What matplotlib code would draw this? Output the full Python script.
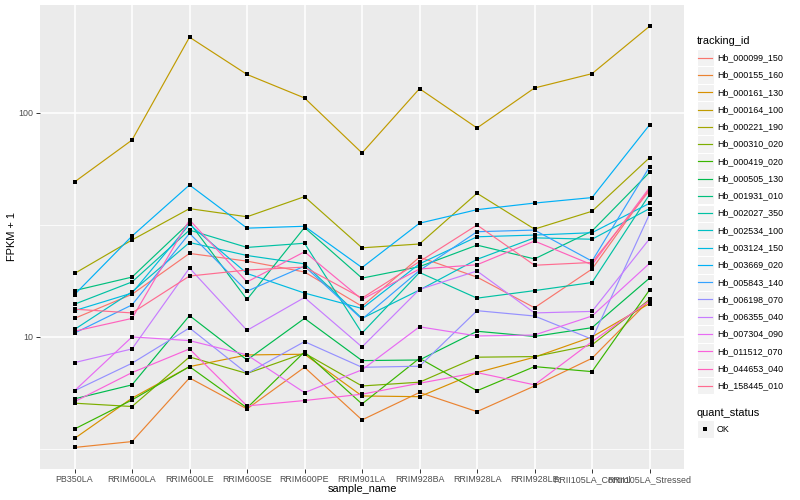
import matplotlib
matplotlib.use('Agg')
import matplotlib.pyplot as plt
import numpy as np
from matplotlib.patches import Rectangle
from matplotlib.lines import Line2D
from matplotlib.ticker import FixedLocator, NullFormatter

plt.rcParams['font.family'] = ['Liberation Sans', 'DejaVu Sans']

samples = ['PB350LA', 'RRIM600LA', 'RRIM600LE', 'RRIM600SE', 'RRIM600PE', 'RRIM901LA',
           'RRIM928BA', 'RRIM928LA', 'RRIM928LE', 'RRII105LA_Control', 'RRII105LA_Stressed']

tracking_ids = ['Hb_000099_150', 'Hb_000155_160', 'Hb_000161_130', 'Hb_000164_100',
                'Hb_000221_190', 'Hb_000310_020', 'Hb_000419_020', 'Hb_000505_130',
                'Hb_001931_010', 'Hb_002027_350', 'Hb_002534_100', 'Hb_003124_150',
                'Hb_003669_020', 'Hb_005843_140', 'Hb_006198_070', 'Hb_006355_040',
                'Hb_007304_090', 'Hb_011512_070', 'Hb_044653_040', 'Hb_158445_010']

colors = ['#F8766D', '#EA8331', '#D89000', '#C09B00', '#A3A500', '#7CAE00', '#39B600',
          '#00BB4E', '#00BF7D', '#00C1A3', '#00BFC4', '#00BAE0', '#00B0F6', '#35A2FF',
          '#9590FF', '#C77CFF', '#E76BF3', '#FA62DB', '#FF62BC', '#FF6C90']

# FPKM + 1 per gene, in sample order
hb_000099_150 = [12.1, 15.5, 23.6, 21.8, 19.5, 13.7, 22.7, 18.5, 13.5, 20.1, 45.8]
hb_000155_160 = [3.21, 3.41, 6.56, 4.77, 7.32, 4.26, 5.65, 4.64, 6.04, 8.03, 14.6]
hb_000161_130 = [3.52, 5.33, 7.37, 8.31, 8.37, 5.45, 5.41, 6.93, 8.12, 10.0, 14.1]
hb_000164_100 = [49.2, 75.7, 218, 148.6, 116.7, 66.3, 128.4, 85.7, 129.3, 149.8, 243.8]
hb_000221_190 = [19.2, 27.1, 37.4, 34.4, 42.3, 25.0, 26.0, 43.8, 30.3, 36.4, 63.1]
hb_000310_020 = [5.06, 4.89, 8.14, 6.87, 8.46, 6.04, 6.28, 8.12, 8.17, 9.21, 14.7]
hb_000419_020 = [3.88, 5.23, 7.37, 4.82, 8.57, 5.02, 8.03, 5.75, 7.37, 7.00, 16.2]
hb_000505_130 = [5.29, 6.11, 12.45, 7.89, 12.1, 7.84, 7.89, 10.6, 10.05, 11.0, 18.3]
hb_001931_010 = [16.1, 18.5, 32.4, 14.7, 30.8, 18.3, 20.6, 25.7, 22.3, 29.7, 54.3]
hb_002027_350 = [14.0, 17.6, 30.0, 25.1, 26.2, 10.4, 19.4, 14.9, 16.1, 17.5, 43.2]
hb_002534_100 = [10.8, 15.9, 26.4, 23.1, 21.2, 12.1, 16.2, 22.2, 27.7, 27.3, 37.4]
hb_003124_150 = [13.1, 15.7, 31.8, 19.2, 15.7, 13.4, 21.2, 28.0, 28.5, 29.2, 39.5]
hb_003669_020 = [15.45, 28.2, 47.7, 30.6, 31.2, 20.4, 32.2, 37.0, 39.6, 41.9, 88.4]
hb_005843_140 = [10.4, 13.9, 29.0, 16.0, 20.7, 12.0, 19.8, 29.5, 30.0, 21.8, 57.4]
hb_006198_070 = [5.75, 7.63, 10.97, 6.87, 9.53, 7.32, 7.40, 13.1, 12.4, 9.77, 35.3]
hb_006355_040 = [7.68, 8.84, 20.3, 10.7, 15.0, 9.02, 16.3, 19.7, 12.8, 13.0, 27.4]
hb_007304_090 = [5.75, 10.0, 9.63, 8.31, 5.64, 7.13, 11.1, 10.1, 10.2, 12.4, 21.3]
hb_011512_070 = [5.14, 6.93, 8.84, 4.92, 5.20, 5.55, 6.21, 6.93, 6.11, 9.53, 14.5]
hb_044653_040 = [10.6, 12.1, 33.3, 17.6, 24.0, 14.7, 20.1, 21.0, 26.8, 21.0, 46.4]
hb_158445_010 = [13.3, 12.8, 18.7, 19.9, 20.5, 14.9, 21.7, 31.6, 20.9, 21.5, 45.0]

series = [hb_000099_150, hb_000155_160, hb_000161_130, hb_000164_100, hb_000221_190,
          hb_000310_020, hb_000419_020, hb_000505_130, hb_001931_010, hb_002027_350,
          hb_002534_100, hb_003124_150, hb_003669_020, hb_005843_140, hb_006198_070,
          hb_006355_040, hb_007304_090, hb_011512_070, hb_044653_040, hb_158445_010]

W, H = 800, 500
fig = plt.figure(figsize=(W / 100, H / 100), dpi=100)
fig.patch.set_facecolor('white')

def fx(px):
    return px / W

def fy(py):
    return 1 - py / H

ax = fig.add_axes([fx(40), fy(468.7), fx(684) - fx(40), fy(5) - fy(468.7)])
ax.set_facecolor('#EBEBEB')
ax.set_yscale('log')
ax.set_ylim(2.58, 303.5)
ax.set_xlim(-0.6, len(samples) - 0.4)

x = np.arange(len(samples))
for vals, col in zip(series, colors):
    ax.plot(x, vals, color=col, lw=0.85, zorder=3, solid_capstyle='butt')
for vals in series:
    ax.plot(x, vals, ls='none', marker='s', color='black', ms=2.7, mew=0, zorder=4)

ax.yaxis.set_major_locator(FixedLocator([10, 100]))
ax.yaxis.set_minor_locator(FixedLocator([10 ** 0.5, 10 ** 1.5, 10 ** 2.5]))
ax.yaxis.set_minor_formatter(NullFormatter())
ax.set_yticklabels(['10', '100'])
ax.set_xticks(x)
ax.set_xticklabels(samples)
ax.grid(which='major', color='white', lw=1.1, zorder=1)
ax.grid(which='minor', axis='y', color='white', lw=0.55, zorder=1)
ax.set_axisbelow(True)
for s in ax.spines.values():
    s.set_visible(False)
ax.tick_params(axis='both', which='major', length=2.7, width=0.7, color='#333333',
               labelsize=6.4, labelcolor='#4D4D4D', pad=1.8)
ax.tick_params(which='minor', length=0)

fig.text(fx(362), fy(489.5), 'sample_name', fontsize=7.9, ha='center', va='center', color='black')
fig.text(fx(12), fy(236.8), 'FPKM + 1', fontsize=7.9, ha='center', va='center',
         rotation=90, color='black')

# legend: tracking_id
fig.text(fx(696.7), fy(40.5), 'tracking_id', fontsize=7.9, ha='left', va='center')
row0, step = 57.7, 17.27
for i, (name, col) in enumerate(zip(tracking_ids, colors)):
    yc = row0 + step * i
    fig.add_artist(Rectangle((fx(696.5), fy(yc + 8.6)), fx(17.3), (step - 0.1) / H,
                             facecolor='#F2F2F2', edgecolor='white', lw=0.8,
                             transform=fig.transFigure))
    fig.add_artist(Line2D([fx(698.3), fx(712.3)], [fy(yc), fy(yc)], color=col, lw=0.85,
                          transform=fig.transFigure))
    fig.text(fx(717), fy(yc), name, fontsize=6.4, ha='left', va='center', color='black')

# legend: quant_status
fig.text(fx(696.7), fy(412.5), 'quant_status', fontsize=7.9, ha='left', va='center')
yc = 429
fig.add_artist(Rectangle((fx(696.5), fy(yc + 8.6)), fx(17.3), (step - 0.1) / H,
                         facecolor='#F2F2F2', edgecolor='white', lw=0.8,
                         transform=fig.transFigure))
fig.add_artist(Line2D([fx(705.2)], [fy(yc)], ls='none', marker='s', color='black', ms=2.7,
                      mew=0, transform=fig.transFigure))
fig.text(fx(717), fy(yc), 'OK', fontsize=6.4, ha='left', va='center', color='black')

fig.savefig('out.png', dpi=100, facecolor='white')
